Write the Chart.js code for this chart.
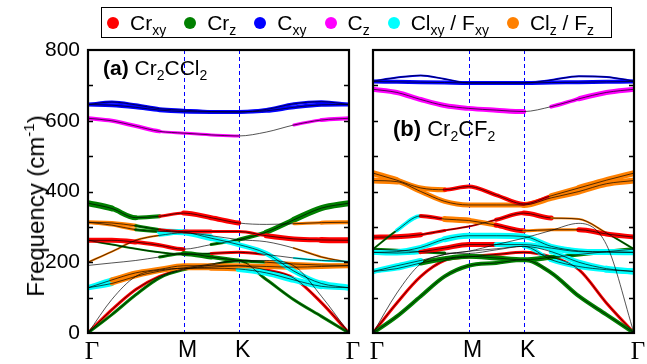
<!DOCTYPE html>
<html>
<head>
<meta charset="utf-8">
<script src="https://cdn.jsdelivr.net/npm/chart.js@4.4.0/dist/chart.umd.min.js"></script>
<style>
body { margin: 0; width: 647px; height: 364px; background: #fff; position: relative; overflow: hidden; font-family: "Liberation Sans", Arial, sans-serif; color: #000; }
canvas { position: absolute; left: 0; top: 0; }
#legend { position: absolute; left: 101px; top: 7px; width: 511px; height: 31px; box-sizing: border-box; border: 1.5px solid #000; display: flex; align-items: center; padding-left: 5px; font-size: 21px; white-space: nowrap; }
#legend .item { display: flex; align-items: center; margin-right: 18px; flex-shrink: 0; }
#legend .dot { width: 12px; height: 12px; border-radius: 50%; margin-right: 11px; }
sub { font-size: 14px; vertical-align: -5px; line-height: 0; }
sup { font-size: 15px; vertical-align: 10px; line-height: 0; }
.panel { position: absolute; white-space: nowrap; line-height: 22px; }
#ytitle { position: absolute; left: 36px; top: 206px; transform: translate(-50%, -50%) rotate(-90deg); font-size: 24px; white-space: nowrap; }
</style>
</head>
<body>
<canvas id="chartA" width="647" height="364"></canvas>
<canvas id="chartB" width="647" height="364"></canvas>
<div id="legend"></div>
<div class="panel" style="left:103px;top:57px;font-size:21px"><b>(a)</b> Cr<sub>2</sub>CCl<sub>2</sub></div>
<div class="panel" style="left:393px;top:118px;font-size:22px"><b>(b)</b> Cr<sub>2</sub>CF<sub>2</sub></div>
<div id="ytitle">Frequency (cm<sup>-1</sup>)</div>
<script>
// k-path: Γ - M - K - Γ (sample points along the path)
const kPos = [0, 0.25, 0.5, 0.75, 1, 1.289, 1.577, 1.866, 2.155, 2.443, 2.732];
const kTicks = [0, 1, 1.577, 2.732];
const kLabels = ["Γ", "M", "K", "Γ"];
const yLabels = [0, 200, 400, 600, 800];
const yMinor = [100, 200, 300, 400, 500, 600, 700];

// legend
const legendNames = ["Cr<sub>xy</sub>", "Cr<sub>z</sub>", "C<sub>xy</sub>", "C<sub>z</sub>", "Cl<sub>xy</sub> / F<sub>xy</sub>", "Cl<sub>z</sub> / F<sub>z</sub>"];
const legendCodes = ["r", "g", "b", "m", "c", "o"];
const palette = { r: "#ff0000", g: "#008000", b: "#0000ff", m: "#ff00ff", c: "#00ffff", o: "#ff8000", k: "rgba(0,0,0,0)" };

// (a) Cr2CCl2 bands, frequency (cm-1) at each kPos
const freqA = [
    [646, 653, 645, 634, 630, 626, 625, 632, 648, 654, 646],
    [646, 644, 638, 630, 626, 625, 625, 628, 638, 645, 646],
    [607, 600, 585, 570, 565, 560, 557, 568, 588, 602, 607],
    [367, 352, 326, 330, 339, 326, 311, 307, 309, 312, 313],
    [313, 311, 303, 292, 287, 287, 287, 275, 266, 263, 262],
    [313, 305, 292, 287, 285, 268, 250, 225, 175, 140, 128],
    [262, 262, 257, 248, 237, 250, 264, 285, 320, 353, 367],
    [262, 250, 238, 228, 222, 225, 228, 222, 212, 205, 202],
    [200, 230, 262, 276, 283, 275, 264, 258, 240, 215, 200],
    [191, 198, 205, 215, 225, 215, 205, 200, 195, 192, 191],
    [128, 150, 170, 180, 190, 190, 190, 188, 186, 188, 190],
    [128, 140, 160, 175, 183, 183, 181, 170, 150, 132, 128],
    [0, 52, 108, 156, 179, 192, 204, 151, 94, 47, 0],
    [0, 66, 123, 160, 181, 186, 190, 178, 155, 86, 0],
    [0, 95, 160, 178, 184, 195, 205, 205, 190, 104, 0]
];
// projected character per segment (r g b m c o, k = none) and its weight
const colorsA = ["bbbbbbbbbb", "bbbbbbbbbb", "mmmmmmkkmm", "gggrrrkkoo", "oogrrrrrrr", "oogccccccc", "rrrrkggggg",
    "gggggrrkcc", "ooocckkkoo", "kkkggggooo", "cooooooooo", "cooooocccc", "gggggggggg", "rrrrrrrrrr", "kkkkkkkkkk"];
const widthsA = ["3333333333", "4444444444", "4443332234", "6543554134", "4433433556", "3336655556", "5544134566",
    "2222233122", "2223311122", "1113543444", "5555555555", "5444456665", "3333333333", "3333333333", "1111111111"];

// (b) Cr2CF2 bands
const freqB = [
    [712, 722, 728, 718, 707, 707, 707, 715, 726, 724, 712],
    [711, 710, 709, 708, 707, 707, 707, 708, 709, 710, 711],
    [689, 680, 660, 643, 635, 630, 626, 640, 662, 680, 689],
    [452, 432, 410, 405, 414, 390, 365, 388, 410, 432, 452],
    [431, 428, 400, 372, 362, 362, 362, 382, 400, 422, 431],
    [237, 290, 331, 322, 318, 305, 289, 292, 292, 280, 271],
    [271, 272, 278, 290, 301, 320, 339, 325, 322, 283, 237],
    [228, 230, 242, 265, 275, 275, 273, 245, 232, 229, 228],
    [228, 226, 230, 240, 250, 250, 250, 240, 230, 229, 228],
    [174, 190, 205, 222, 231, 238, 245, 230, 200, 182, 174],
    [174, 182, 198, 210, 217, 212, 207, 214, 222, 230, 237],
    [237, 234, 230, 226, 225, 235, 245, 207, 188, 179, 174],
    [0, 47, 104, 160, 190, 198, 207, 170, 104, 52, 0],
    [0, 85, 160, 205, 215, 222, 228, 215, 179, 85, 0],
    [0, 113, 196, 222, 231, 250, 268, 290, 310, 250, 0]
];
const colorsB = ["bbbbbbbbbb", "bbbbbbbbbb", "mmmmmmkmmm", "ooorrrrooo", "oooooooooo", "gcrooroorr", "rrrrrrroog",
    "cccccccccc", "ccrrrccccc", "cckkkkkccc", "ccgggggggg", "gggkkkcccc", "gggggggggg", "rrrrrrrrrr", "kkkkkkkkkk"];
const widthsB = ["2222222222", "4444444444", "5555553455", "6554443566", "6555556666", "2446553355", "5532245222",
    "5556665555", "5555555666", "5511111556", "4455555444", "3331114556", "4444444444", "3333333333", "1111111111"];

// legend html
document.getElementById("legend").innerHTML = legendNames.map((n, i) =>
    '<span class="item"><span class="dot" style="background:' + palette[legendCodes[i]] + '"></span><span>' + n + '</span></span>'
).join("");

// frame, dashed M/K lines and inward ticks
const framePlugin = {
    id: "frame",
    beforeDatasetsDraw(chart) {
        const { ctx, chartArea: a, scales } = chart;
        ctx.save();
        ctx.strokeStyle = "#0000ff";
        ctx.lineWidth = 1;
        ctx.setLineDash([4, 3]);
        [kTicks[1], kTicks[2]].forEach(v => {
            const px = Math.round(scales.x.getPixelForValue(v)) + 0.5;
            ctx.beginPath();
            ctx.moveTo(px, a.top);
            ctx.lineTo(px, a.bottom);
            ctx.stroke();
        });
        ctx.restore();
    },
    afterDatasetsDraw(chart) {
        const { ctx, chartArea: a, scales } = chart;
        ctx.save();
        ctx.strokeStyle = "#000";
        ctx.lineWidth = 1.5;
        yMinor.forEach(v => {
            const py = Math.round(scales.y.getPixelForValue(v)) + 0.5;
            ctx.beginPath();
            ctx.moveTo(a.left, py); ctx.lineTo(a.left + 5, py);
            ctx.moveTo(a.right, py); ctx.lineTo(a.right - 5, py);
            ctx.stroke();
        });
        ctx.lineWidth = 2.2;
        ctx.strokeRect(a.left, a.top, a.right - a.left, a.bottom - a.top);
        ctx.restore();
    }
};

function makeChart(id, freq, colors, widths, padLeft, padRight, showY) {
    const datasets = [];
    freq.forEach((band, i) => {
        const pts = kPos.map((x, j) => ({ x: x, y: band[j] }));
        datasets.push({
            data: pts,
            order: 2,
            pointRadius: 0,
            cubicInterpolationMode: "monotone",
            borderCapStyle: "round",
            borderJoinStyle: "round",
            segment: {
                borderColor: c => palette[colors[i][c.p0DataIndex]],
                borderWidth: c => +widths[i][c.p0DataIndex]
            }
        });
        datasets.push({
            data: pts,
            order: 1,
            pointRadius: 0,
            borderWidth: 0.8,
            borderColor: "rgba(0,0,0,0.85)",
            cubicInterpolationMode: "monotone"
        });
    });

    return new Chart(document.getElementById(id), {
        type: "line",
        data: { datasets: datasets },
        options: {
            responsive: false,
            animation: false,
            devicePixelRatio: 1,
            layout: { padding: { left: padLeft, right: padRight, top: 50, bottom: 0 } },
            plugins: { legend: { display: false }, tooltip: { enabled: false } },
            scales: {
                x: {
                    type: "linear",
                    min: 0,
                    max: kTicks[kTicks.length - 1],
                    grid: { display: false, drawTicks: false },
                    border: { display: false },
                    afterBuildTicks: axis => { axis.ticks = kTicks.map(v => ({ value: v })); },
                    afterFit: s => { s.height = 31; },
                    ticks: {
                        autoSkip: false,
                        maxRotation: 0,
                        padding: 4,
                        labelOffset: 4,
                        color: "#000",
                        callback: (v, i) => kLabels[i],
                        font: c => (kLabels[c.index] === "Γ"
                            ? { family: "'Liberation Serif', 'Times New Roman', serif", size: 25 }
                            : { family: "'Liberation Sans', Arial, sans-serif", size: 23 })
                    }
                },
                y: {
                    display: showY,
                    min: 0,
                    max: 800,
                    grid: { display: false, drawTicks: false },
                    border: { display: false },
                    afterBuildTicks: axis => { axis.ticks = yLabels.map(v => ({ value: v })); },
                    afterFit: s => { s.width = showY ? 88 : 0; },
                    ticks: {
                        padding: 8,
                        color: "#000",
                        font: { family: "'Liberation Sans', Arial, sans-serif", size: 21 }
                    }
                }
            }
        },
        plugins: [framePlugin]
    });
}

makeChart("chartA", freqA, colorsA, widthsA, 0, 298, true);
makeChart("chartB", freqB, colorsB, widthsB, 373, 13, false);
</script>
</body>
</html>
